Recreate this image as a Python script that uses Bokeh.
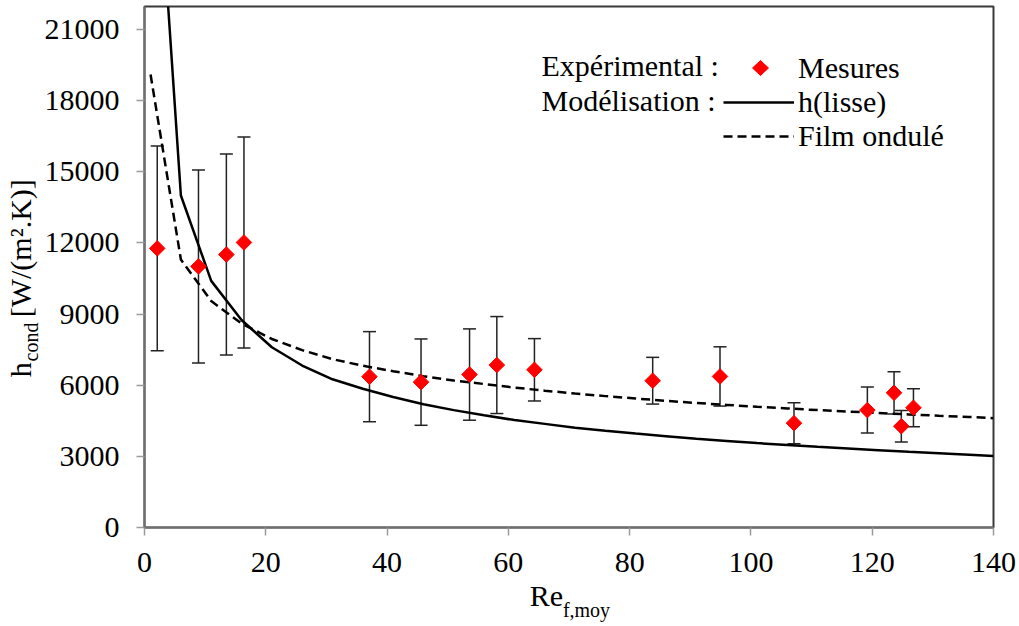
import numpy as np
from bokeh.plotting import figure
from bokeh.models import (ColumnDataSource, Whisker, TeeHead, Label, Legend,
                          LegendItem, Range1d, FixedTicker, LinearAxis,
                          PolyAnnotation)
from bokeh.embed import file_html
from bokeh.resources import INLINE

# ---- data ----
re_meas = [2.1, 8.9, 13.5, 16.4, 37.1, 45.6, 53.6, 58.1, 64.3, 83.8, 94.9,
           107.1, 119.2, 123.6, 124.8, 126.8]
h_meas = [11770, 11010, 11510, 12020, 6360, 6130, 6450, 6850, 6650, 6190, 6370,
          4400, 4950, 5680, 4270, 5050]
h_err = [4320, 4070, 4240, 4450, 1900, 1820, 1925, 2045, 1315, 985, 1250,
         865, 970, 890, 660, 800]

re_model = [1, 6, 11, 16, 21, 26, 31, 36, 41, 46, 51, 56, 61, 66, 71, 76, 81,
            86, 91, 96, 101, 106, 111, 116, 121, 126, 131, 136, 140]
h_lisse = [33000, 14000, 10400, 8750, 7600, 6830, 6250, 5850, 5500, 5200, 4950,
           4730, 4530, 4370, 4210, 4080, 3960, 3850, 3740, 3650, 3560, 3480,
           3400, 3330, 3260, 3190, 3130, 3070, 3020]
h_ondule = [19100, 11300, 9550, 8600, 7950, 7480, 7100, 6820, 6590, 6380, 6200,
            6050, 5900, 5770, 5650, 5540, 5440, 5340, 5250, 5170, 5090, 5020,
            4950, 4890, 4830, 4770, 4710, 4660, 4610]

x_ticks = [0, 20, 40, 60, 80, 100, 120, 140]
y_ticks = [0, 3000, 6000, 9000, 12000, 15000, 18000, 21000]

FONT = "Liberation Serif"
FS = "30px"
FS_SUB = "20px"
NB = "\u00a0"

meas = ColumnDataSource(dict(
    x=re_meas, y=h_meas,
    lo=[h - e for h, e in zip(h_meas, h_err)],
    hi=[h + e for h, e in zip(h_meas, h_err)],
))
model = ColumnDataSource(dict(x=re_model, l=h_lisse, o=h_ondule))

W, H = 1016, 624
FL, FR, FT, FB = 142, 993, 6, 527   # frame edges on the page

p = figure(width=W, height=H, output_backend="svg", toolbar_location=None,
           x_range=Range1d(0, 140), y_range=Range1d(0, 21970),
           min_border_left=FL, min_border_right=W - FR, min_border_top=FT,
           min_border_bottom=H - FB)
p.xgrid.visible = False
p.ygrid.visible = False
p.outline_line_color = "#3a3a3a"
p.outline_line_width = 2
p.background_fill_color = "white"
p.border_fill_color = "white"

for ax in (p.xaxis[0], p.yaxis[0]):
    ax.major_label_text_font = FONT
    ax.major_label_text_font_size = FS
    ax.major_label_text_color = "black"
    ax.axis_line_color = "#6f6f6f"
    ax.axis_line_width = 2
    ax.major_tick_line_color = "#9a9a9a"
    ax.major_tick_line_width = 1.5
    ax.major_tick_in = 0
    ax.major_tick_out = 8
    ax.minor_tick_line_color = None
    ax.axis_label_text_font = FONT
    ax.axis_label_text_font_style = "normal"
    ax.axis_label_text_color = "black"
p.xaxis.ticker = FixedTicker(ticks=x_ticks)
p.yaxis.ticker = FixedTicker(ticks=y_ticks)
p.xaxis.major_label_standoff = 17
p.yaxis.major_label_standoff = 17

# x axis label: "Re" with subscript "f,moy" on a second, tick-less axis
p.xaxis.axis_label = "Re" + NB * 6
p.xaxis.axis_label_text_font_size = FS
p.xaxis.axis_label_standoff = 4

# y axis label: subscript on the main axis, main text on a second axis
p.yaxis.axis_label = "cond" + NB * 30
p.yaxis.axis_label_text_font_size = FS_SUB
p.yaxis.axis_label_standoff = 0


def label_axis(text, size, standoff):
    a = LinearAxis(ticker=FixedTicker(ticks=[]), axis_line_color=None,
                   major_tick_line_color=None, minor_tick_line_color=None,
                   major_tick_out=0, minor_tick_out=0, major_tick_in=0,
                   minor_tick_in=0, axis_label=text,
                   axis_label_text_font=FONT, axis_label_text_font_size=size,
                   axis_label_text_font_style="normal",
                   axis_label_text_color="black",
                   axis_label_standoff=standoff)
    return a


p.add_layout(label_axis(NB * 7 + "f,moy", FS_SUB, -16), "below")
p.add_layout(label_axis("h" + NB * 6 + "[W/(m².K)]" + NB * 3, FS, -20), "left")

r_lisse = p.line("x", "l", source=model, line_color="black", line_width=2.5)
r_ond = p.line("x", "o", source=model, line_color="black", line_width=2.5,
               line_dash="9 5")

wh = Whisker(source=meas, base="x", upper="hi", lower="lo", dimension="height",
             line_color="#222222", line_width=1.5,
             upper_head=TeeHead(size=13, line_color="#222222", line_width=1.5),
             lower_head=TeeHead(size=13, line_color="#222222", line_width=1.5))
p.add_layout(wh)

r_meas = p.scatter("x", "y", source=meas, marker="square", angle=np.pi / 4,
                   size=11, fill_color="#ff0000", line_color="#ff0000")

# invisible stand-in for the legend row of the measurements
r_key = p.scatter(x=[], y=[], marker="square", size=1, fill_alpha=0,
                  line_alpha=0)

legend = Legend(items=[LegendItem(label="Mesures", renderers=[r_key]),
                       LegendItem(label="h(lisse)", renderers=[r_lisse]),
                       LegendItem(label="Film ondulé", renderers=[r_ond])],
                location=(579, 374), orientation="vertical",
                glyph_width=71, glyph_height=28, label_height=34, spacing=0,
                padding=0, margin=0, label_standoff=4,
                label_text_font=FONT, label_text_font_size=FS,
                label_text_color="black",
                border_line_color=None, background_fill_alpha=0)
p.add_layout(legend)

# red diamond key of the legend (screen units, relative to the frame)
kx, ky = 758 - FL, FB - 67.5
p.add_layout(PolyAnnotation(xs=[kx, kx + 8, kx, kx - 8],
                            ys=[ky + 7.5, ky, ky - 7.5, ky],
                            xs_units="screen", ys_units="screen",
                            fill_color="#ff0000", fill_alpha=1,
                            line_color="#ff0000", line_alpha=1, line_width=1))


def lab(text, x, y):
    p.add_layout(Label(text=text, x=x, y=y, x_units="screen", y_units="screen",
                       text_font=FONT, text_font_size=FS, text_color="black",
                       text_align="left", text_baseline="alphabetic"))


lab("Expérimental :", 397, 462)
lab("Modélisation :", 397, 427.5)

open("out.html", "w").write(file_html(p, INLINE))
